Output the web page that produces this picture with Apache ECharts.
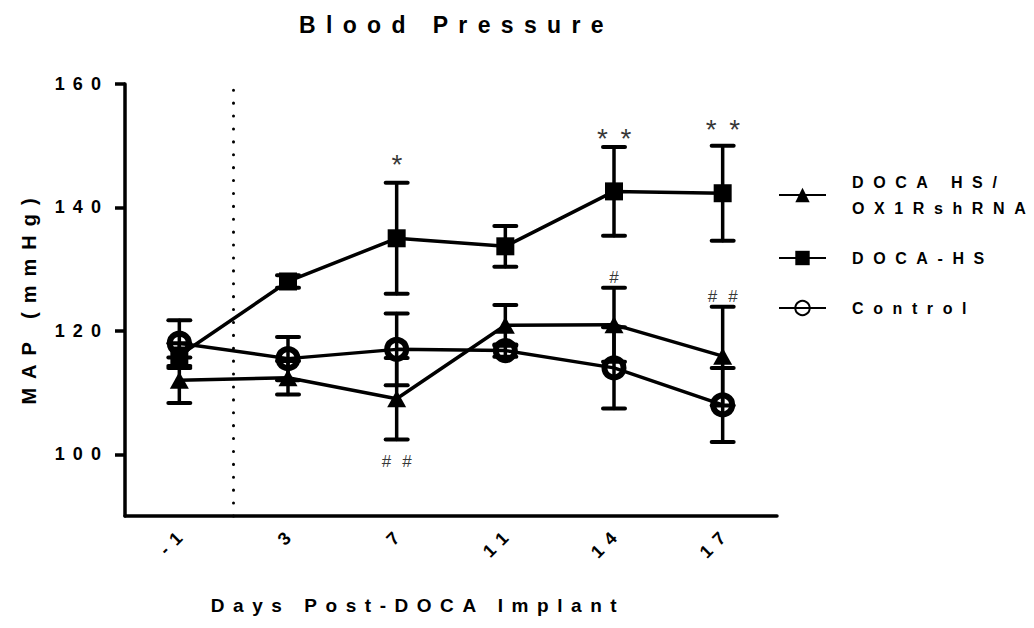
<!DOCTYPE html>
<html>
<head>
<meta charset="utf-8">
<title>Blood Pressure</title>
<script src="https://cdn.jsdelivr.net/npm/echarts@6/dist/echarts.min.js"></script>
<style>
  html, body { margin: 0; padding: 0; background: #fff; }
  #chart { width: 1034px; height: 628px; }
  /* the original figure uses wide tracking on every label */
  #chart text { letter-spacing: 0.45em; }
  #chart text[style*="16px"] { letter-spacing: 0.6em; }
  #chart text[style*="17px"] { letter-spacing: 0.65em; }
</style>
</head>
<body>
<div id="chart"></div>
<script>
// categories and tick labels
var days = ['-1', '3', '7', '11', '14', '17'];
var yTicks = [100, 120, 140, 160];

// MAP means and error (mmHg)
var oxMean = [112, 112.4, 109, 120.9, 121, 115.9];
var oxErr = [3.7, 2.7, 6.6, 3.3, 6, 8];
var hsMean = [116, 128, 135, 133.7, 142.6, 142.3];
var hsErr = [2, 1, 9, 3.3, 7.2, 7.7];
var ctrlMean = [118, 115.5, 117, 116.8, 114, 108];
var ctrlErr = [3.7, 3.5, 5.8, 1, 6.6, 6];

// significance marks
var markDay = [2, 4, 5, 4, 5, 2];
var markY = [146.9, 151.2, 152.6, 128.6, 125.6, 98.9];
var markText = ['*', '**', '**', '#', '##', '##'];

// implant marker sits between day -1 and day 3
var implantAt = 0.5;

var seriesNames = ['DOCA HS/\nOX1RshRNA', 'DOCA-HS', 'Control'];
var font = 'Liberation Sans, Arial, sans-serif';

function errorBars(means, errs) {
    return {
        type: 'custom',
        silent: true,
        z: 1,
        encode: { x: 0, y: [1, 2] },
        data: means.map(function (m, i) { return [i, m - errs[i], m + errs[i]]; }),
        renderItem: function (params, api) {
            var lo = api.coord([api.value(0), api.value(1)]);
            var hi = api.coord([api.value(0), api.value(2)]);
            var hw = 11;
            var bar = { stroke: '#000', lineWidth: 3.5, lineCap: 'round' };
            var cap = { stroke: '#000', lineWidth: 4, lineCap: 'round' };
            return {
                type: 'group',
                children: [
                    { type: 'line', shape: { x1: lo[0], y1: lo[1], x2: hi[0], y2: hi[1] }, style: bar },
                    { type: 'line', shape: { x1: lo[0] - hw, y1: lo[1], x2: lo[0] + hw, y2: lo[1] }, style: cap },
                    { type: 'line', shape: { x1: hi[0] - hw, y1: hi[1], x2: hi[0] + hw, y2: hi[1] }, style: cap }
                ]
            };
        }
    };
}

function markLabel(text) {
    // asterisks are set larger than the hash marks in the figure
    if (text.indexOf('*') >= 0) {
        return { fontSize: 28, padding: [0, 0, 0, 13] };
    }
    return { fontSize: 17, padding: [0, 0, 0, 11] };
}

var chart = echarts.init(document.getElementById('chart'), null, { renderer: 'svg' });

var option = {
    animation: false,
    backgroundColor: '#fff',
    title: {
        text: 'Blood Pressure',
        left: 294,
        top: 8,
        textStyle: { fontFamily: font, fontSize: 23, fontWeight: 'bold', color: '#000' }
    },
    legend: {
        orient: 'vertical',
        left: 773,
        top: 164,
        itemWidth: 47,
        itemHeight: 18,
        itemGap: 24,
        selectedMode: false,
        data: seriesNames,
        textStyle: {
            fontFamily: font, fontSize: 16, fontWeight: 'bold', color: '#000',
            lineHeight: 26, padding: [0, 0, 0, 21]
        }
    },
    grid: { left: 125, right: 257, top: 84, bottom: 112, outerBoundsMode: 'none' },
    xAxis: [{
        type: 'category',
        data: days,
        boundaryGap: true,
        name: 'Days Post-DOCA Implant',
        nameLocation: 'middle',
        nameGap: 80,
        nameTextStyle: {
            fontFamily: font, fontSize: 19, fontWeight: 'bold', color: '#000',
            padding: [0, 66, 0, 0]
        },
        axisLine: { lineStyle: { color: '#000', width: 3.5 } },
        axisTick: { alignWithLabel: true, length: 12, lineStyle: { color: '#000', width: 3.5 } },
        axisLabel: {
            rotate: 45, margin: 19, padding: [0, -8, 0, 0],
            fontFamily: font, fontSize: 18, fontWeight: 'bold', color: '#000'
        },
        splitLine: { show: false }
    }, {
        type: 'value',
        min: -0.5,
        max: 5.5,
        show: false
    }],
    yAxis: {
        type: 'value',
        min: 90,
        max: 160,
        name: 'MAP (mmHg)',
        nameLocation: 'middle',
        nameGap: 86,
        nameTextStyle: {
            fontFamily: font, fontSize: 20, fontWeight: 'bold', color: '#000',
            padding: [0, 0, 0, 6]
        },
        axisLine: { show: true, onZero: false, lineStyle: { color: '#000', width: 3.5 } },
        axisTick: { show: true, length: 10, customValues: yTicks, lineStyle: { color: '#000', width: 3.5 } },
        axisLabel: {
            customValues: yTicks, margin: 16,
            fontFamily: font, fontSize: 18, fontWeight: 'bold', color: '#000'
        },
        splitLine: { show: false }
    },
    series: [
        errorBars(oxMean, oxErr),
        errorBars(hsMean, hsErr),
        errorBars(ctrlMean, ctrlErr),
        {
            name: seriesNames[0],
            type: 'line',
            data: oxMean,
            symbol: 'triangle',
            symbolSize: [19, 17],
            z: 3,
            lineStyle: { color: '#000', width: 3.5 },
            itemStyle: { color: '#000' }
        },
        {
            name: seriesNames[1],
            type: 'line',
            data: hsMean,
            symbol: 'rect',
            symbolSize: 18,
            z: 3,
            lineStyle: { color: '#000', width: 3.5 },
            itemStyle: { color: '#000' }
        },
        {
            name: seriesNames[2],
            type: 'line',
            data: ctrlMean,
            symbol: 'circle',
            symbolSize: 19,
            z: 3,
            lineStyle: { color: '#000', width: 3.5 },
            itemStyle: { color: 'rgba(255,255,255,0)', borderColor: '#000', borderWidth: 6 }
        },
        {
            name: 'marks',
            type: 'scatter',
            silent: true,
            symbolSize: 1,
            itemStyle: { color: 'rgba(0,0,0,0)' },
            data: markDay.map(function (d, i) {
                return { value: [d, markY[i]], name: markText[i], label: markLabel(markText[i]) };
            }),
            label: {
                show: true,
                position: 'inside',
                formatter: '{b}',
                fontFamily: font, color: '#000'
            }
        },
        {
            name: 'implant',
            type: 'line',
            xAxisIndex: 1,
            data: [],
            markLine: {
                silent: true,
                symbol: 'none',
                label: { show: false },
                lineStyle: { color: '#000', width: 3, type: [0.1, 12.8], cap: 'round' },
                data: [{ xAxis: implantAt }]
            }
        }
    ]
};

chart.setOption(option);
</script>
</body>
</html>
